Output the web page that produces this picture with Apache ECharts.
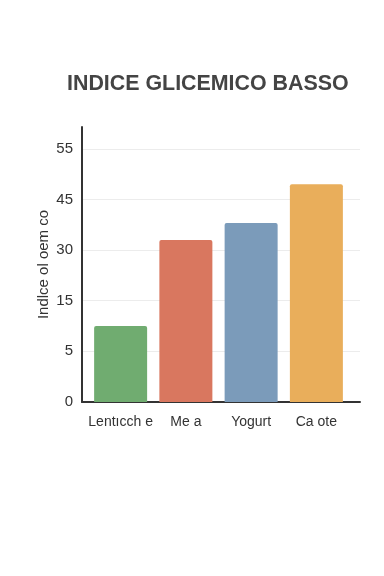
<!DOCTYPE html>
<html><head><meta charset="utf-8">
<script src="https://cdn.jsdelivr.net/npm/echarts@6/dist/echarts.min.js"></script>
<style>html,body{margin:0;padding:0;background:#fff}#c{width:384px;height:576px}</style>
</head><body><div id="c"></div>
<script>
const titleText = "INDICE GLICEMICO BASSO";
const yAxisName = "Indlce ol oem co";
const categories = ["Lentıcch e", "Me a", "Yogurt", "Ca ote"];
const values = [10, 33, 38, 48];
const colors = ["#70ac70", "#d9775f", "#7b9bba", "#e9ae5b"];
const tickLabels = [0, 5, 15, 30, 45, 55];

// piecewise scale: each tick label is one evenly spaced step on the axis
function toAxis(v) {
  for (let i = 0; i < tickLabels.length - 1; i++) {
    if (v <= tickLabels[i + 1]) return i + (v - tickLabels[i]) / (tickLabels[i + 1] - tickLabels[i]);
  }
  const n = tickLabels.length - 1;
  return n + (v - tickLabels[n]) / (tickLabels[n] - tickLabels[n - 1]);
}
const yMax = 5.43;
const font = "'Liberation Sans', Arial, sans-serif";

const chart = echarts.init(document.getElementById('c'), null, {renderer: 'canvas'});
chart.setOption({
  backgroundColor: '#fff',
  animation: false,
  title: {
    text: titleText, left: 62, top: 69,
    textStyle: {fontFamily: font, fontSize: 21.4, fontWeight: 'bold', color: '#444'}
  },
  grid: [
    {left: 88, right: 35, top: 127, bottom: 174},
    {left: 82, right: 24, top: 127, bottom: 174}
  ],
  xAxis: [
    {type: 'category', gridIndex: 0, data: categories,
     axisLine: {show: false}, axisTick: {show: false},
     axisLabel: {interval: 0, margin: 13, fontFamily: font, fontSize: 14, color: '#333'}},
    {type: 'value', gridIndex: 1, min: 0, max: 1,
     axisLine: {show: true, lineStyle: {color: '#333', width: 2}},
     axisTick: {show: false}, axisLabel: {show: false}, splitLine: {show: false}}
  ],
  yAxis: [
    {type: 'value', gridIndex: 0, min: 0, max: yMax, show: false, splitLine: {show: false}},
    {type: 'value', gridIndex: 1, min: 0, max: yMax, interval: 1,
     name: yAxisName, nameLocation: 'middle', nameGap: 31, nameMoveOverlap: false,
     nameTextStyle: {fontFamily: font, fontSize: 15, color: '#333'},
     axisLine: {show: true, lineStyle: {color: '#333', width: 2}},
     axisTick: {show: false},
     axisLabel: {margin: 9, fontFamily: font, fontSize: 15, color: '#333', showMaxLabel: false,
       formatter: v => (Number.isInteger(v) && tickLabels[v] !== undefined) ? String(tickLabels[v]) : ''},
     splitLine: {show: true, showMaxLine: false, lineStyle: {color: '#ececec', width: 1}}}
  ],
  series: [{
    type: 'bar', xAxisIndex: 0, yAxisIndex: 0, barWidth: 53,
    data: values.map((v, i) => ({value: toAxis(v), itemStyle: {color: colors[i], borderRadius: [2, 2, 0, 0]}}))
  }]
});
</script></body></html>
